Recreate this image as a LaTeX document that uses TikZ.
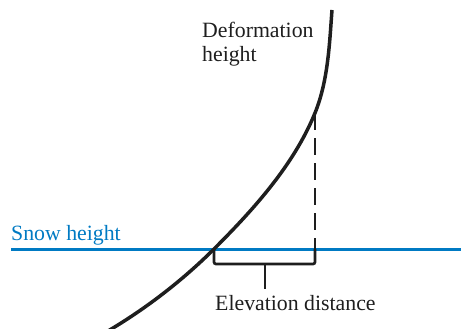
\documentclass[tikz,border=0pt]{standalone}
\usepackage{fontspec}
\setmainfont{Liberation Serif}
\definecolor{snowblue}{RGB}{0,122,195}
\definecolor{ink}{RGB}{30,30,30}
\begin{document}
\begin{tikzpicture}[x=1pt,y=-1pt,
  curve/.style={line width=3.5pt,ink},
  thin/.style={line width=2.7pt,ink},
  lbl/.style={font=\fontsize{21.8}{25}\selectfont,text=ink,inner sep=0pt,anchor=base west}]
\useasboundingbox (0,0) rectangle (461,329);
\coordinate (low) at (108,331);
\coordinate (cross) at (214,249);
\coordinate (top) at (315,113);
\coordinate (high) at (332,10);
\coordinate (foot) at (315,249);
\draw[snowblue,line width=3pt] (11,249) -- (461,249);
\draw[curve] (low) .. controls (146,308.6) and (183,280) .. (cross)
  .. controls (253.6,209.4) and (293.9,164.9) .. (top)
  .. controls (328.2,80.6) and (329.5,43) .. (high);
\draw[thin,dash pattern=on 17pt off 8pt] (top) -- (foot);
\draw[thin,rounded corners=2pt] (cross) -- (214,264) -- (315,264) -- (foot);
\draw[thin] (265,264) -- (265,289);
\node[lbl,text=snowblue] (snow) at (11,240) {Snow height};
\node[lbl] (elev) at (215,310) {Elevation distance};
\node[lbl] (def1) at (202,38) {Deformation};
\node[lbl] (def2) at (202,62) {height};
\end{tikzpicture}
\end{document}
